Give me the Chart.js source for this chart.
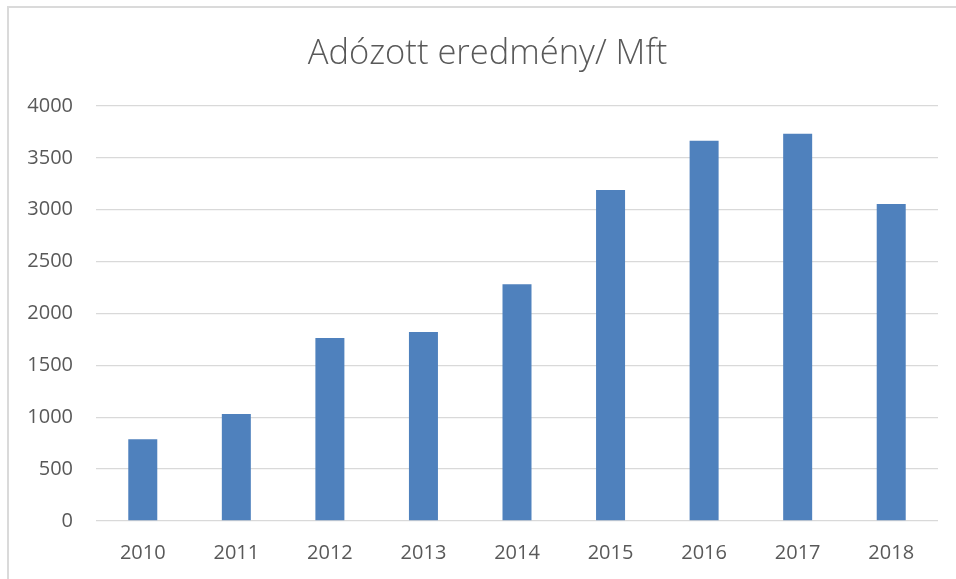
<!DOCTYPE html>
<html>
<head>
<meta charset="utf-8">
<script src="https://cdn.jsdelivr.net/npm/chart.js@4/dist/chart.umd.min.js"></script>
<style>
  html, body { margin: 0; padding: 0; background: #fff; }
  #wrap { position: relative; width: 956px; height: 579px; overflow: hidden; }
  #frame { position: absolute; left: 7px; top: 6px; width: 1000px; height: 1000px;
           border-left: 2px solid #dadada; border-top: 2px solid #dadada; pointer-events: none; }
  canvas { position: absolute; left: 0; top: 0; }
</style>
</head>
<body>
<div id="wrap">
  <canvas id="c" width="956" height="579"></canvas>
  <div id="frame"></div>
</div>
<script>
const title = "Adózott eredmény/ Mft";
const years = ["2010", "2011", "2012", "2013", "2014", "2015", "2016", "2017", "2018"];
const values = [787, 1031, 1764, 1822, 2281, 3190, 3666, 3733, 3055];
const yMin = 0;
const yMax = 4000;
const yStep = 500;

const textColor = "#595959";

const shiftTitle = {
  id: "shiftTitle",
  afterLayout(chart) {
    const t = chart.titleBlock;
    if (t) { t.left = 37; t.right = 938; }
  }
};

new Chart(document.getElementById("c"), {
  type: "bar",
  data: {
    labels: years,
    datasets: [{
      label: title,
      data: values,
      backgroundColor: "#4f81bd",
      borderWidth: 0,
      barPercentage: 0.31,
      categoryPercentage: 1.0
    }]
  },
  plugins: [shiftTitle],
  options: {
    responsive: false,
    animation: false,
    devicePixelRatio: 1,
    layout: { padding: { left: 0, right: 18, top: 0, bottom: 0 } },
    plugins: {
      legend: { display: false },
      tooltip: { enabled: false },
      title: {
        display: true,
        text: title,
        color: textColor,
        font: { family: "'Open Sans', sans-serif", size: 34.5, weight: 300, lineHeight: 1.2 },
        padding: { top: 33.5, bottom: 31.1 }
      }
    },
    scales: {
      x: {
        grid: { display: false, drawTicks: false },
        border: { display: false },
        ticks: {
          color: textColor,
          font: { family: "'Open Sans', sans-serif", size: 20 },
          padding: 20,
          maxRotation: 0
        },
        afterFit: (s) => { s.height = 58; }
      },
      y: {
        min: yMin,
        max: yMax,
        grid: { color: "#d9d9d9", lineWidth: 1.3, drawTicks: false },
        border: { display: false },
        ticks: {
          stepSize: yStep,
          color: textColor,
          font: { family: "'Open Sans', sans-serif", size: 20 },
          padding: 23,
          callback: (v) => String(v)
        },
        afterFit: (s) => { s.width = 96; }
      }
    }
  }
});
</script>
</body>
</html>
